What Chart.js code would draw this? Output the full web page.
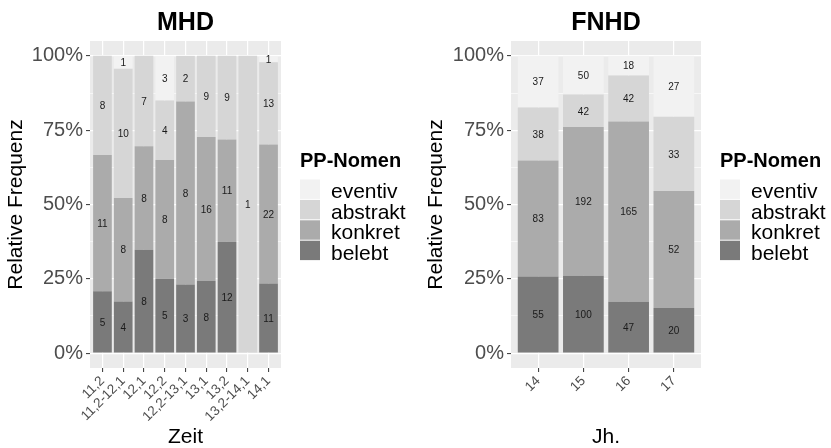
<!DOCTYPE html>
<html>
<head>
<meta charset="utf-8">
<script src="https://cdn.jsdelivr.net/npm/chart.js@4.4.1/dist/chart.umd.min.js"></script>
<style>
  html, body { margin: 0; padding: 0; background: #ffffff; }
  #wrap { position: relative; width: 831px; height: 448px; overflow: hidden; }
  canvas { position: absolute; top: 0; }
</style>
</head>
<body>
<div id="wrap">
  <canvas id="mhd" width="415" height="448" style="left:0px"></canvas>
  <canvas id="fnhd" width="411" height="448" style="left:420px"></canvas>
</div>
<script>
// MHD: counts of PP nouns per period
const mhdZeit      = ['11,2', '11,2-12,1', '12,1', '12,2', '12,2-13,1', '13,1', '13,2', '13,2-14,1', '14,1'];
const mhdBelebt    = [5, 4, 8, 5, 3, 8, 12, 0, 11];
const mhdKonkret   = [11, 8, 8, 8, 8, 16, 11, 0, 22];
const mhdAbstrakt  = [8, 10, 7, 4, 2, 9, 9, 1, 13];
const mhdEventiv   = [0, 1, 0, 3, 0, 0, 0, 0, 1];

// FNHD: counts of PP nouns per century
const fnhdJh       = ['14', '15', '16', '17'];
const fnhdBelebt   = [55, 100, 47, 20];
const fnhdKonkret  = [83, 192, 165, 52];
const fnhdAbstrakt = [38, 42, 42, 33];
const fnhdEventiv  = [37, 50, 18, 27];

// noun classes, bottom of the stack first
const nounClasses = ['belebt', 'konkret', 'abstrakt', 'eventiv'];
const classFills  = ['#7a7a7a', '#ababab', '#d6d6d6', '#f2f2f2'];

const yMajor = [0, 0.25, 0.5, 0.75, 1];
const yMinor = [0.125, 0.375, 0.625, 0.875];

const FONT = "'Liberation Sans', Arial, Helvetica, sans-serif";

// grey panel behind the bars
const panelPlugin = {
  id: 'panel',
  beforeDraw(chart) {
    const a = chart.chartArea, c = chart.ctx;
    c.save();
    c.fillStyle = '#ebebeb';
    c.fillRect(a.left, a.top, a.right - a.left, a.bottom - a.top);
    c.restore();
  }
};

// counts written in the middle of each segment
const countLabelPlugin = {
  id: 'countLabels',
  afterDatasetsDraw(chart) {
    const c = chart.ctx;
    c.save();
    c.font = '10px ' + FONT;
    c.fillStyle = '#1a1a1a';
    c.textAlign = 'center';
    c.textBaseline = 'middle';
    chart.data.datasets.forEach((ds, di) => {
      const meta = chart.getDatasetMeta(di);
      meta.data.forEach((bar, i) => {
        const n = ds.counts[i];
        if (!n) return;
        const p = bar.getProps(['x', 'y', 'base'], true);
        c.fillText(String(n), p.x, (p.y + p.base) / 2 + 1);
      });
    });
    c.restore();
  }
};

// panel title and fill legend
const decorPlugin = {
  id: 'decor',
  afterDraw(chart, args, opts) {
    const a = chart.chartArea, c = chart.ctx;
    c.save();
    c.fillStyle = '#000000';
    c.font = 'bold 25px ' + FONT;
    c.textAlign = 'center';
    c.textBaseline = 'alphabetic';
    c.fillText(opts.title, (a.left + a.right) / 2, 30);

    const lx = a.right + 19;
    c.textAlign = 'left';
    c.font = 'bold 20px ' + FONT;
    c.fillText('PP-Nomen', lx, 167);

    const keyTop = 179.5, keyH = 20.4, keyW = 20;
    c.font = '21px ' + FONT;
    const order = chart.data.datasets.slice().reverse();
    order.forEach((ds, k) => {
      const y = keyTop + k * keyH;
      c.fillStyle = ds.backgroundColor;
      c.fillRect(lx, y, keyW, keyH - 1);
      c.fillStyle = '#000000';
      c.fillText(ds.label, lx + 31, y + keyH - 1.5);
    });
    c.restore();
  }
};

function makeChart(id, title, xTitle, cats, series, yWidth, rightPad, xTickFont) {
  const totals = cats.map((_, i) => series.reduce((s, arr) => s + arr[i], 0));
  const datasets = series.map((arr, k) => ({
    label: nounClasses[k],
    counts: arr,
    backgroundColor: classFills[k],
    borderWidth: 0,
    barPercentage: 0.9,
    categoryPercentage: 1,
    data: arr.map((n, i) => ({ x: i, y: n / totals[i] }))
  }));

  return new Chart(document.getElementById(id), {
    type: 'bar',
    data: { datasets },
    options: {
      responsive: false,
      animation: false,
      devicePixelRatio: 1,
      layout: { padding: { top: 41, right: rightPad, bottom: 0, left: 0 } },
      plugins: {
        legend: { display: false },
        tooltip: { enabled: false },
        decor: { title }
      },
      scales: {
        x: {
          type: 'linear',
          stacked: true,
          offset: false,
          min: -0.6,
          max: cats.length - 0.4,
          afterBuildTicks: s => { s.ticks = cats.map((_, i) => ({ value: i })); },
          afterFit: s => { s.height = 80; },
          grid: {
            offset: false,
            color: '#ffffff',
            lineWidth: 1.2,
            drawTicks: true,
            tickLength: 4,
            tickColor: '#333333',
            tickWidth: 1
          },
          border: { display: false },
          ticks: {
            autoSkip: false,
            minRotation: 45,
            maxRotation: 45,
            padding: 1,
            color: '#4d4d4d',
            font: { family: FONT, size: xTickFont },
            callback: v => cats[v]
          },
          title: {
            display: true,
            text: xTitle,
            color: '#000000',
            font: { family: FONT, size: 21, lineHeight: 1 },
            padding: { top: 0, bottom: 0 }
          }
        },
        y: {
          type: 'linear',
          stacked: true,
          min: -0.05,
          max: 1.05,
          afterBuildTicks: s => {
            s.ticks = yMajor.concat(yMinor).sort((p, q) => p - q).map(v => ({ value: v }));
          },
          afterFit: s => { s.width = yWidth; },
          grid: {
            color: '#ffffff',
            lineWidth: ctx => (yMinor.includes(ctx.tick.value) ? 0.6 : 1.2),
            drawTicks: true,
            tickLength: 4,
            tickColor: ctx => (yMinor.includes(ctx.tick.value) ? 'rgba(0,0,0,0)' : '#333333'),
            tickWidth: 1
          },
          border: { display: false },
          ticks: {
            padding: 3,
            color: '#4d4d4d',
            font: { family: FONT, size: 20 },
            callback: v => (yMajor.includes(v) ? Math.round(v * 100) + '%' : '')
          },
          title: {
            display: true,
            text: 'Relative Frequenz',
            color: '#000000',
            font: { family: FONT, size: 21 },
            padding: { top: 4, bottom: 0 }
          }
        }
      }
    },
    plugins: [panelPlugin, countLabelPlugin, decorPlugin]
  });
}

makeChart('mhd', 'MHD', 'Zeit', mhdZeit,
  [mhdBelebt, mhdKonkret, mhdAbstrakt, mhdEventiv], 90, 134, 13.5);
makeChart('fnhd', 'FNHD', 'Jh.', fnhdJh,
  [fnhdBelebt, fnhdKonkret, fnhdAbstrakt, fnhdEventiv], 91, 130, 13.5);
</script>
</body>
</html>
